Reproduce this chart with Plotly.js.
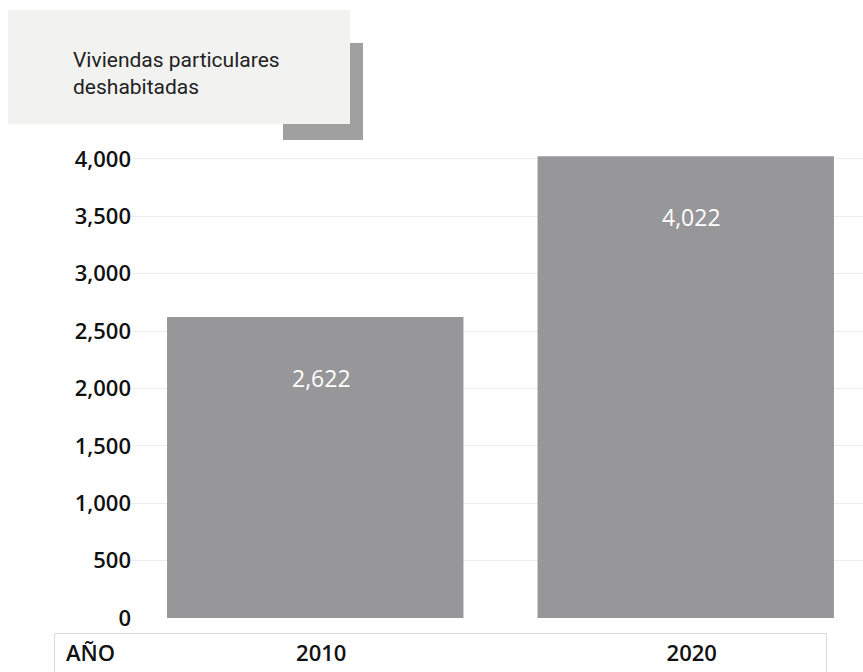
<!DOCTYPE html>
<html>
<head>
<meta charset="utf-8">
<script src="https://cdn.plot.ly/plotly-3.0.1.min.js"></script>
<style>
html,body{margin:0;padding:0;background:#fff;overflow:hidden;}
#chart{width:863px;height:672px;}
</style>
</head>
<body>
<div id="chart"></div>
<script>
// ---- data ----
const categories = ["2010", "2020"];
const values = [2622, 4022];
const seriesName = "Viviendas particulares<br>deshabitadas";
const axisLabel = "AÑO";
const yTicks = [0, 500, 1000, 1500, 2000, 2500, 3000, 3500, 4000];

// ---- geometry helpers (layout only) ----
const W = 863, H = 672;
const L = 132, R = 0, T = 150, B = 54;
const PW = W - L - R, PH = H - T - B;
const px = x => (x - L) / PW;
const py = y => (H - B - y) / PH;

const barColor = "#979698";

const trace = {
  type: "bar",
  x: categories,
  y: values,
  marker: {color: barColor},
  width: 0.8,
  hoverinfo: "none",
  showlegend: false
};

const annotations = categories.map((c, i) => ({
  x: i, y: values[i], xref: "x", yref: "y",
  text: values[i].toLocaleString("en-US"),
  showarrow: false, xanchor: "center", yanchor: "middle",
  xshift: 6, yshift: -61,
  font: {family: "Open Sans", size: 23, color: "#ffffff", weight: 400}
}));

annotations.push({
  xref: "paper", yref: "paper", x: px(71), y: py(46),
  xanchor: "left", yanchor: "top", align: "left",
  text: seriesName, showarrow: false,
  font: {family: "Roboto", size: 21, color: "#222222"}
});
annotations.push({
  xref: "paper", yref: "paper", x: px(64), y: py(652),
  xanchor: "left", yanchor: "middle",
  text: axisLabel, showarrow: false,
  font: {family: "Open Sans", size: 22, color: "#111111", weight: 600}
});

const layout = {
  width: W, height: H,
  margin: {l: L, r: R, t: T, b: B, pad: 0},
  paper_bgcolor: "#ffffff",
  plot_bgcolor: "#ffffff",
  bargap: 0.2,
  xaxis: {
    type: "category",
    range: [-0.5 + (L - 130) / 370.5, -0.5 + (W - 130) / 370.5],
    showgrid: false, zeroline: false, showline: false, ticks: "",
    tickfont: {family: "Open Sans", size: 22, color: "#111111", weight: 600},
    ticklabelshift: 6,
    ticklabelstandoff: 20,
    fixedrange: true
  },
  yaxis: {
    range: [0, PH / 0.1148],
    tickvals: yTicks,
    tickformat: ",",
    showgrid: true, gridcolor: "#ececec", gridwidth: 1,
    zeroline: true, zerolinecolor: "rgba(0,0,0,0)",
    showline: false, ticks: "",
    tickfont: {family: "Open Sans", size: 22, color: "#111111", weight: 600},
    ticklabelstandoff: 0,
    fixedrange: true
  },
  shapes: [
    {type: "rect", xref: "paper", yref: "paper",
     x0: px(283), x1: px(363), y0: py(140), y1: py(43),
     fillcolor: "#a0a0a0", line: {width: 0}, layer: "above"},
    {type: "rect", xref: "paper", yref: "paper",
     x0: px(8), x1: px(350), y0: py(124), y1: py(10),
     fillcolor: "#f2f2f1", line: {width: 0}, layer: "above"},
    {type: "rect", xref: "paper", yref: "paper",
     x0: px(54.5), x1: px(826.5), y0: py(690), y1: py(633.5),
     fillcolor: "rgba(0,0,0,0)", line: {width: 1, color: "#d9d9d9"}, layer: "below"}
  ],
  annotations: annotations,
  showlegend: false
};

Plotly.newPlot("chart", [trace], layout, {displayModeBar: false, staticPlot: true});
</script>
</body>
</html>
